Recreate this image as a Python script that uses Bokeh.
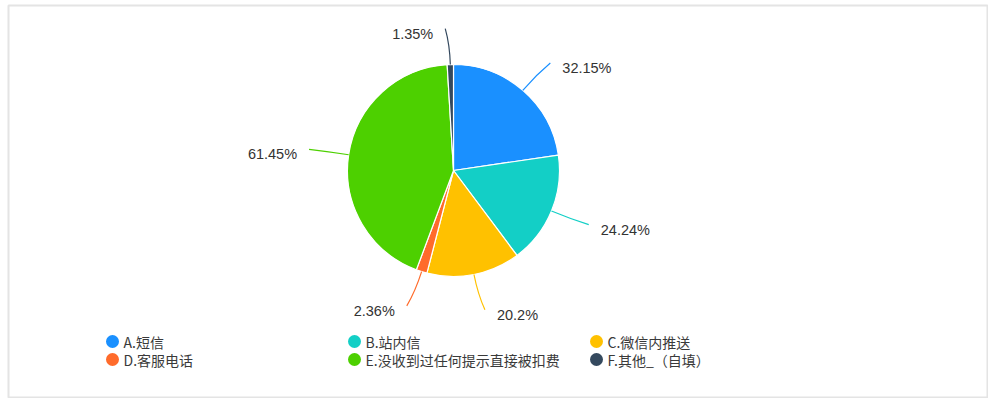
import numpy as np
from bokeh.core.properties import value
from bokeh.embed import file_html
from bokeh.models import ColumnDataSource, Range1d
from bokeh.plotting import figure
from bokeh.resources import INLINE

categories = ["A.短信", "B.站内信", "C.微信内推送", "D.客服电话",
              "E.没收到过任何提示直接被扣费", "F.其他_（自填）"]
percents = [32.15, 24.24, 20.2, 2.36, 61.45, 1.35]
colors = ["#1a90ff", "#13cfc6", "#ffc100", "#ff6b2b", "#4dd000", "#34495e"]
pct_labels = ["32.15%", "24.24%", "20.2%", "2.36%", "61.45%", "1.35%"]

W, H = 980, 393
left_pad, top_pad = 8, 5
cx, cy, r = 445, 228, 106

vals = np.array(percents)
frac = vals / vals.sum() * 2 * np.pi
cum = np.concatenate([[0], np.cumsum(frac)])
start = np.pi / 2 - cum[:-1]
end = np.pi / 2 - cum[1:]
mid = (start + end) / 2
dx, dy = np.cos(mid), np.sin(mid)
side = np.where(dx >= 0, 1, -1)

# leader lines: radial out of the slice, slight bend at the end
x0 = cx + r * dx
y0 = cy + r * dy
xc = cx + (r + 20) * dx
yc = cy + (r + 20) * dy
x1 = cx + (r + 36) * dx + side * 4
y1 = cy + (r + 36) * dy
tx = x1 + side * 12
ty = y1 - 5

src = ColumnDataSource(dict(
    cat=categories, color=colors, start=start, end=end,
    x0=x0, y0=y0, xc=xc, yc=yc, x1=x1, y1=y1,
    tx=tx, ty=ty, lab=pct_labels,
    align=["left" if s > 0 else "right" for s in side],
))

p = figure(width=W + left_pad, height=H + top_pad,
           x_range=Range1d(0, W), y_range=Range1d(0, H),
           x_axis_type=None, y_axis_type=None, toolbar_location=None,
           output_backend="svg", min_border=0,
           min_border_left=left_pad, min_border_top=top_pad)
p.grid.visible = False
p.outline_line_color = "#e4e4e4"
p.outline_line_width = 2
p.background_fill_color = "white"

p.wedge(x=cx, y=cy, radius=r, radius_units="screen", start_angle="start",
        end_angle="end", direction="clock", fill_color="color",
        line_color="white", line_width=1.2, source=src)

p.quadratic(x0="x0", y0="y0", x1="x1", y1="y1", cx="xc", cy="yc",
            line_color="color", line_width=1.2, source=src)

p.text(x="tx", y="ty", text="lab", text_align="align", text_baseline="middle",
       text_font=value("Liberation Sans"), text_font_size="14.5px",
       text_color="#333333", source=src)

# legend, 3 columns x 2 rows
idx = np.arange(len(categories))
col, row = idx % 3, idx // 3
lx = 104 + col * 242
ly = H - 336 - row * 18
leg = ColumnDataSource(dict(x=lx, y=ly, tx=lx + 11, cat=categories, color=colors))
p.scatter(x="x", y="y", size=13, fill_color="color", line_color=None, source=leg)
p.text(x="tx", y="y", text="cat", text_baseline="middle",
       text_font=value("Noto Sans CJK SC"), text_font_size="14px",
       text_color="#3a3a3a", source=leg)

open("out.html", "w").write(file_html(p, INLINE))
